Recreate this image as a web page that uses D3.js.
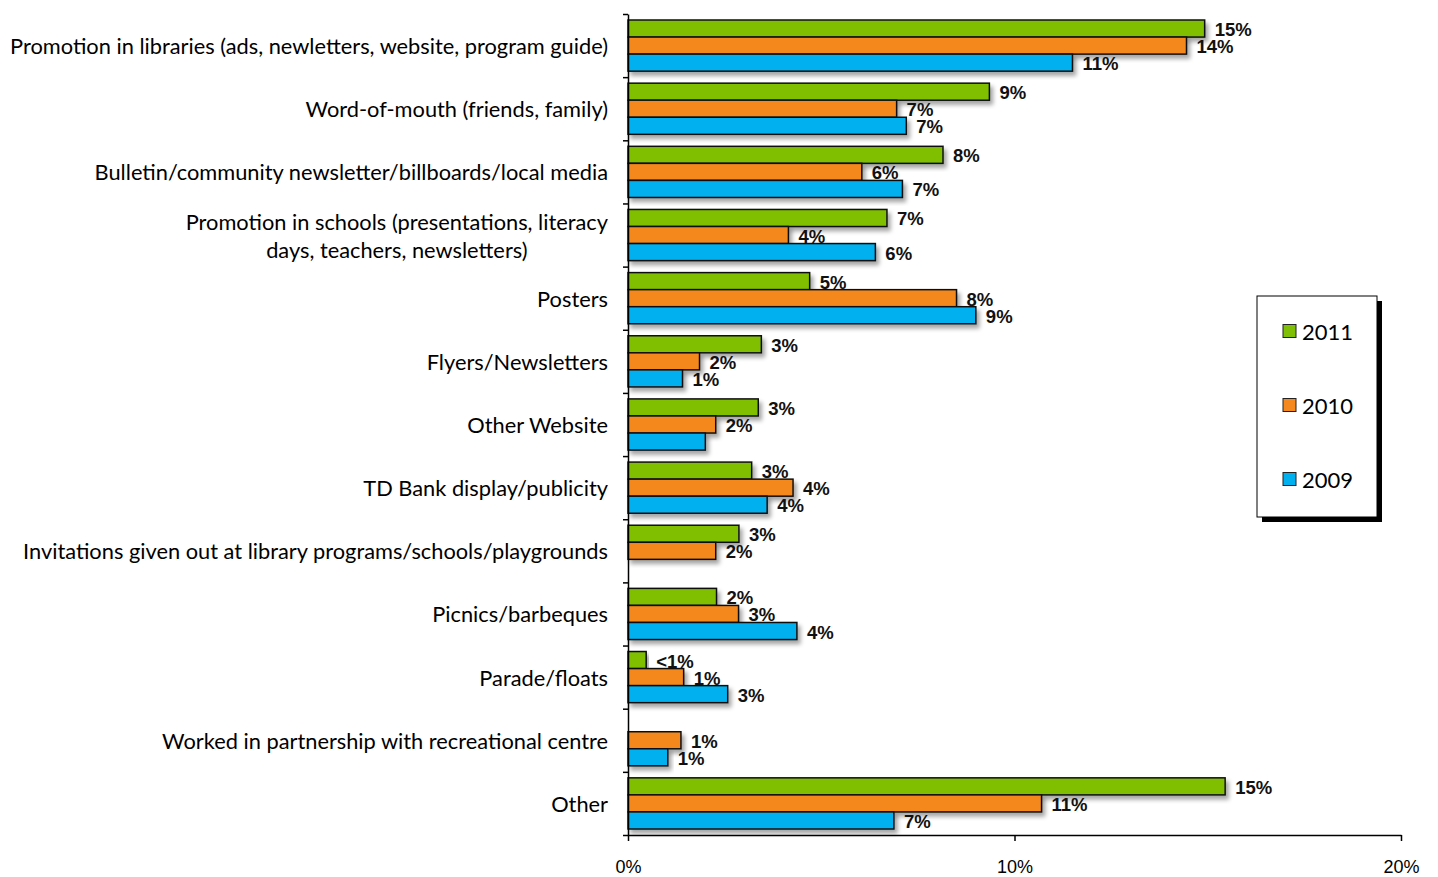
<!DOCTYPE html>
<html>
<head>
<meta charset="utf-8">
<script src="https://cdn.jsdelivr.net/npm/d3@7"></script>
<style>
  body { margin: 0; background: #fff; }
  svg { display: block; }
</style>
</head>
<body>
<div id="chart"></div>
<script>
const categories = [
  "Promotion in libraries (ads, newletters, website, program guide)",
  "Word-of-mouth (friends, family)",
  "Bulletin/community newsletter/billboards/local media",
  "Promotion in schools (presentations, literacy|days, teachers, newsletters)",
  "Posters",
  "Flyers/Newsletters",
  "Other Website",
  "TD Bank display/publicity",
  "Invitations given out at library programs/schools/playgrounds",
  "Picnics/barbeques",
  "Parade/floats",
  "Worked in partnership with recreational centre",
  "Other"
];
const series = ["2011", "2010", "2009"];
const values2011 = [14.92, 9.35, 8.15, 6.7, 4.7, 3.45, 3.37, 3.2, 2.87, 2.29, 0.47, null, 15.45];
const values2010 = [14.45, 6.95, 6.05, 4.15, 8.5, 1.85, 2.27, 4.27, 2.27, 2.86, 1.44, 1.37, 10.7];
const values2009 = [11.5, 7.2, 7.1, 6.4, 9.0, 1.41, 2.0, 3.6, null, 4.37, 2.58, 1.03, 6.88];
const labels2011 = ["15%", "9%", "8%", "7%", "5%", "3%", "3%", "3%", "3%", "2%", "<1%", "", "15%"];
const labels2010 = ["14%", "7%", "6%", "4%", "8%", "2%", "2%", "4%", "2%", "3%", "1%", "1%", "11%"];
const labels2009 = ["11%", "7%", "7%", "6%", "9%", "1%", "", "4%", "", "4%", "3%", "1%", "7%"];
const xTicks = [0, 10, 20];
const colors = { "2011": "#7fbf05", "2010": "#f5881f", "2009": "#00b0ef" };

const width = 1438, height = 877;
const svg = d3.select("#chart").append("svg")
  .attr("width", width)
  .attr("height", height);

const defs = svg.append("defs");
const shadow = defs.append("filter").attr("id", "shadow")
  .attr("x", "-5%").attr("y", "-30%").attr("width", "120%").attr("height", "180%");
shadow.append("feDropShadow")
  .attr("dx", 3).attr("dy", 4).attr("stdDeviation", 2)
  .attr("flood-color", "#000").attr("flood-opacity", 0.35);

const x = d3.scaleLinear().domain([0, 20]).range([628, 1401]);
const y0 = d3.scaleBand().domain(categories).range([14, 835]);
const y1 = d3.scaleBand().domain(series).range([6, y0.bandwidth() - 6]);

const rows = categories.map((c, i) => ({
  cat: c,
  bars: [
    { s: "2011", v: values2011[i], label: labels2011[i] },
    { s: "2010", v: values2010[i], label: labels2010[i] },
    { s: "2009", v: values2009[i], label: labels2009[i] }
  ].filter(b => b.v != null)
}));

const groups = svg.selectAll(".cat")
  .data(rows)
  .enter()
  .append("g")
  .attr("class", "cat")
  .attr("transform", d => `translate(0, ${y0(d.cat)})`);

groups.selectAll("rect")
  .data(d => d.bars)
  .enter()
  .append("rect")
  .attr("x", x(0))
  .attr("y", d => y1(d.s))
  .attr("width", d => x(d.v) - x(0))
  .attr("height", y1.bandwidth())
  .attr("fill", d => colors[d.s])
  .attr("stroke", "#111")
  .attr("stroke-width", 1.5)
  .attr("filter", "url(#shadow)");

groups.selectAll(".val")
  .data(d => d.bars.filter(b => b.label))
  .enter()
  .append("text")
  .attr("class", "val")
  .attr("x", d => x(d.v) + 10)
  .attr("y", d => y1(d.s) + y1.bandwidth() / 2 + 1)
  .attr("dominant-baseline", "central")
  .attr("font-family", "'Liberation Sans', Arial, sans-serif")
  .attr("font-weight", "bold")
  .attr("font-size", 18.5)
  .attr("fill", "#111")
  .text(d => d.label);

// category labels
const catFont = "Lato, 'Open Sans', sans-serif";
const catSize = 21.8;
groups.each(function(d) {
  const g = d3.select(this);
  const lines = d.cat.split("|");
  const cy = y0.bandwidth() / 2;
  const lh = 28;
  const first = g.append("text")
    .attr("x", 608)
    .attr("y", cy - (lines.length - 1) * lh / 2)
    .attr("dominant-baseline", "central")
    .attr("text-anchor", "end")
    .attr("font-family", catFont)
    .attr("font-size", catSize)
    .attr("fill", "#000")
    .text(lines[0]);
  if (lines.length > 1) {
    const w = first.node().getComputedTextLength();
    g.append("text")
      .attr("x", 608 - w / 2)
      .attr("y", cy + lh / 2)
      .attr("dominant-baseline", "central")
      .attr("text-anchor", "middle")
      .attr("font-family", catFont)
      .attr("font-size", catSize)
      .attr("fill", "#000")
      .text(lines[1]);
  }
});

// y axis with ticks at category boundaries
const yEdges = d3.scaleLinear().domain([0, categories.length]).range([14, 835]);
svg.append("g")
  .attr("transform", `translate(${x(0)}, 0)`)
  .call(d3.axisLeft(yEdges).ticks(categories.length).tickSize(5).tickFormat("").tickSizeOuter(0))
  .call(g => g.selectAll("line, path").attr("stroke", "#000").attr("stroke-width", 1.5));

// x axis
const xAxis = svg.append("g")
  .attr("transform", "translate(0, 835)")
  .call(d3.axisBottom(x).tickValues(xTicks).tickSize(6).tickSizeOuter(0).tickFormat(d => d + "%"));
xAxis.selectAll("line, path").attr("stroke", "#000").attr("stroke-width", 1.5);
xAxis.selectAll("text")
  .attr("y", 25)
  .attr("font-family", "'Liberation Sans', Arial, sans-serif")
  .attr("font-size", 18)
  .attr("fill", "#000");

// legend
const legend = svg.append("g").attr("transform", "translate(1257, 296)");
legend.append("rect")
  .attr("x", 5).attr("y", 5).attr("width", 120).attr("height", 221)
  .attr("fill", "#000");
legend.append("rect")
  .attr("width", 120).attr("height", 221)
  .attr("fill", "#fff").attr("stroke", "#000").attr("stroke-width", 1);
const items = legend.selectAll(".item")
  .data(series)
  .enter()
  .append("g")
  .attr("transform", (d, i) => `translate(26, ${35 + i * 74})`);
items.append("rect")
  .attr("x", 0).attr("y", -6.5).attr("width", 13).attr("height", 13)
  .attr("fill", d => colors[d]).attr("stroke", "#222").attr("stroke-width", 1);
items.append("text")
  .attr("x", 19).attr("y", 0)
  .attr("dominant-baseline", "central")
  .attr("font-family", catFont)
  .attr("font-size", 22)
  .attr("fill", "#000")
  .text(d => d);
</script>
</body>
</html>
